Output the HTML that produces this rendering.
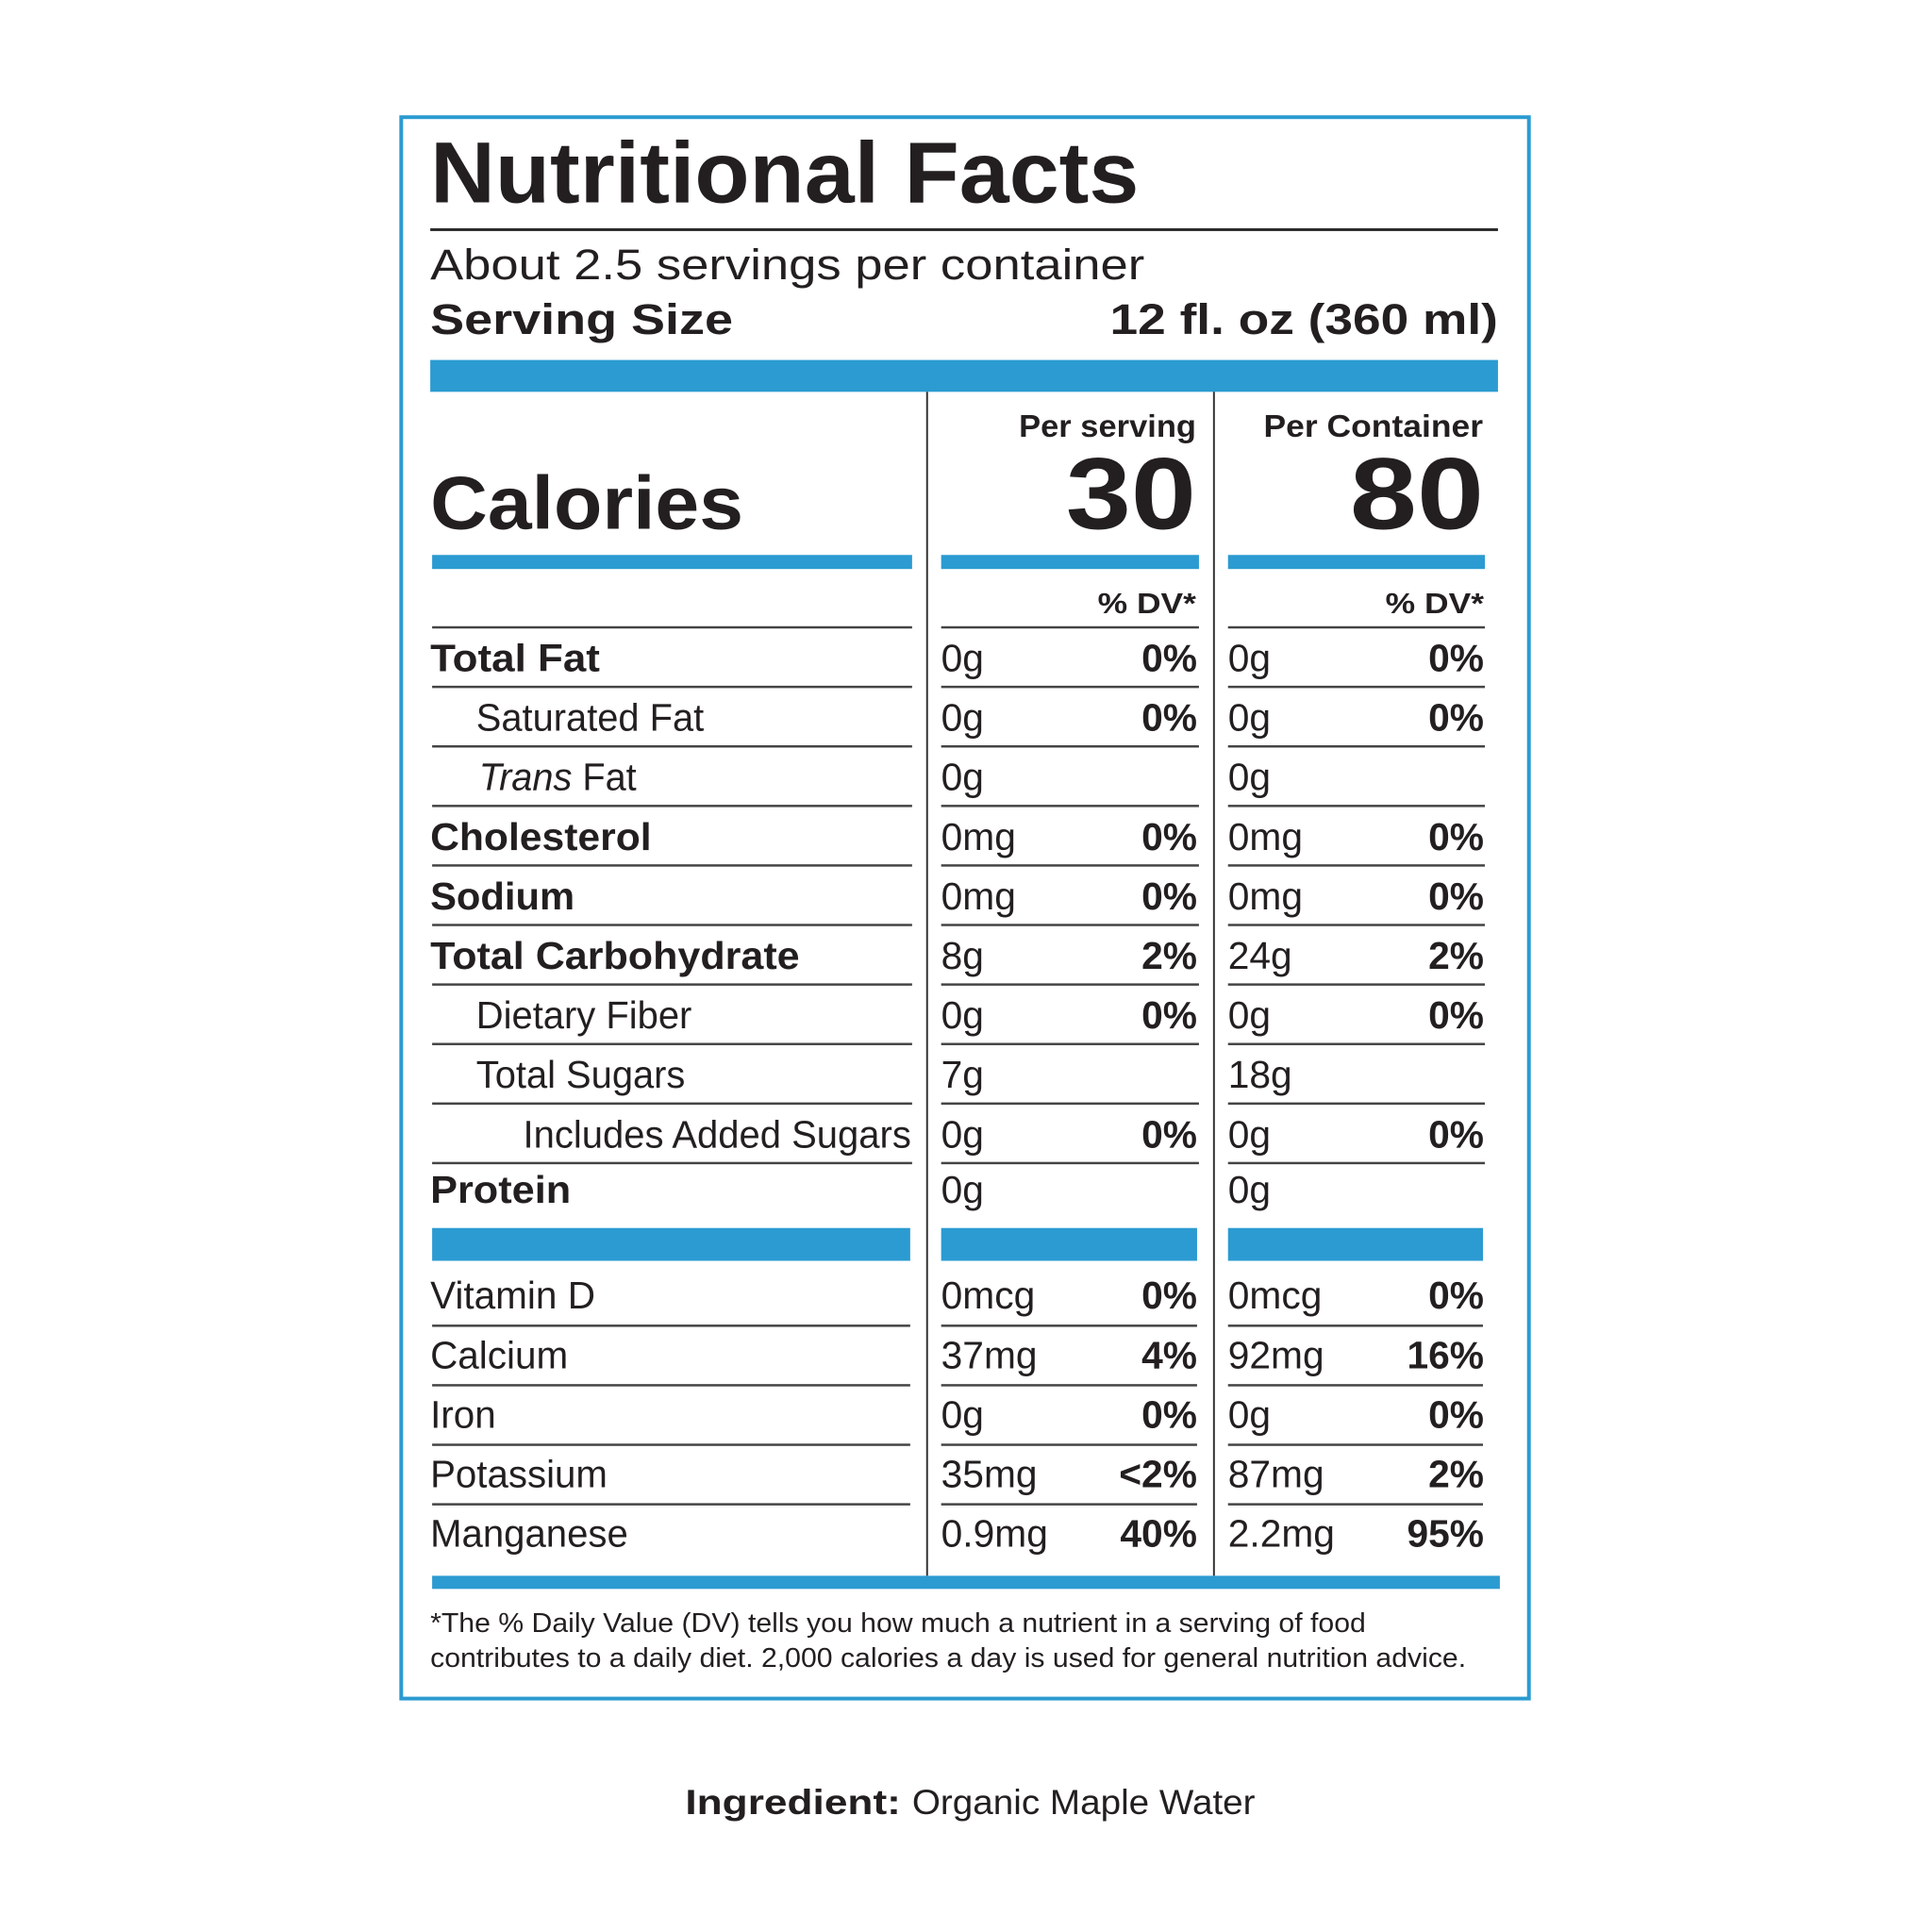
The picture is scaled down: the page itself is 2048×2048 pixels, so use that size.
<!DOCTYPE html>
<html><head><meta charset="utf-8"><style>
html,body{margin:0;padding:0;background:#fff}
svg{display:block}
text{font-family:"Liberation Sans",Arial,sans-serif;fill:#231f20}
.b{font-weight:bold}
.r{font-size:41px}
.p{font-size:41px;font-weight:bold;text-anchor:end}
</style></head><body>
<svg width="2048" height="2048" viewBox="0 0 2061 2061" xmlns="http://www.w3.org/2000/svg">
<rect x="0" y="0" width="2061" height="2061" fill="#fff"/>
<rect x="428" y="125" width="1203" height="1687" fill="none" stroke="#2b9bd1" stroke-width="4"/>
<text x="459" y="216" class="b" font-size="92" textLength="756" lengthAdjust="spacingAndGlyphs">Nutritional Facts</text>
<rect x="459" y="243.5" width="1139" height="3" fill="#2a2a2a"/>
<text x="459" y="298" font-size="46" textLength="762" lengthAdjust="spacingAndGlyphs">About 2.5 servings per container</text>
<text x="459" y="356" class="b" font-size="46" textLength="323" lengthAdjust="spacingAndGlyphs">Serving Size</text>
<text x="1184" y="356" class="b" font-size="46" textLength="414" lengthAdjust="spacingAndGlyphs">12 fl. oz (360 ml)</text>
<rect x="459" y="384" width="1139" height="34" fill="#2b9bd1"/>
<rect x="988" y="418" width="2" height="1263" fill="#333"/>
<rect x="1294" y="418" width="2" height="1263" fill="#333"/>
<text x="1087" y="466" class="b" font-size="34" textLength="189" lengthAdjust="spacingAndGlyphs">Per serving</text>
<text x="1348" y="466" class="b" font-size="34" textLength="234" lengthAdjust="spacingAndGlyphs">Per Container</text>
<text x="1137" y="564" class="b" font-size="108" textLength="139" lengthAdjust="spacingAndGlyphs">30</text>
<text x="1440" y="564" class="b" font-size="108" textLength="143" lengthAdjust="spacingAndGlyphs">80</text>
<text x="459" y="564" class="b" font-size="80" textLength="334" lengthAdjust="spacingAndGlyphs">Calories</text>
<rect x="461" y="592" width="512" height="15" fill="#2b9bd1"/>
<rect x="1004" y="592" width="275" height="15" fill="#2b9bd1"/>
<rect x="1310" y="592" width="274" height="15" fill="#2b9bd1"/>
<text x="1171" y="654" class="b" font-size="31" textLength="105" lengthAdjust="spacingAndGlyphs">% DV*</text>
<text x="1478" y="654" class="b" font-size="31" textLength="105" lengthAdjust="spacingAndGlyphs">% DV*</text>
<g fill="#444">
<rect x="461" y="668" width="512" height="2.5"/><rect x="1004" y="668" width="275" height="2.5"/><rect x="1310" y="668" width="274" height="2.5"/>
<rect x="461" y="731.5" width="512" height="2.5"/><rect x="1004" y="731.5" width="275" height="2.5"/><rect x="1310" y="731.5" width="274" height="2.5"/>
<rect x="461" y="795" width="512" height="2.5"/><rect x="1004" y="795" width="275" height="2.5"/><rect x="1310" y="795" width="274" height="2.5"/>
<rect x="461" y="858.5" width="512" height="2.5"/><rect x="1004" y="858.5" width="275" height="2.5"/><rect x="1310" y="858.5" width="274" height="2.5"/>
<rect x="461" y="922" width="512" height="2.5"/><rect x="1004" y="922" width="275" height="2.5"/><rect x="1310" y="922" width="274" height="2.5"/>
<rect x="461" y="985.5" width="512" height="2.5"/><rect x="1004" y="985.5" width="275" height="2.5"/><rect x="1310" y="985.5" width="274" height="2.5"/>
<rect x="461" y="1049" width="512" height="2.5"/><rect x="1004" y="1049" width="275" height="2.5"/><rect x="1310" y="1049" width="274" height="2.5"/>
<rect x="461" y="1112.5" width="512" height="2.5"/><rect x="1004" y="1112.5" width="275" height="2.5"/><rect x="1310" y="1112.5" width="274" height="2.5"/>
<rect x="461" y="1176" width="512" height="2.5"/><rect x="1004" y="1176" width="275" height="2.5"/><rect x="1310" y="1176" width="274" height="2.5"/>
<rect x="461" y="1239.5" width="512" height="2.5"/><rect x="1004" y="1239.5" width="275" height="2.5"/><rect x="1310" y="1239.5" width="274" height="2.5"/>
<rect x="461" y="1413" width="510" height="2.5"/><rect x="1004" y="1413" width="273" height="2.5"/><rect x="1310" y="1413" width="272" height="2.5"/>
<rect x="461" y="1476.5" width="510" height="2.5"/><rect x="1004" y="1476.5" width="273" height="2.5"/><rect x="1310" y="1476.5" width="272" height="2.5"/>
<rect x="461" y="1540" width="510" height="2.5"/><rect x="1004" y="1540" width="273" height="2.5"/><rect x="1310" y="1540" width="272" height="2.5"/>
<rect x="461" y="1603.5" width="510" height="2.5"/><rect x="1004" y="1603.5" width="273" height="2.5"/><rect x="1310" y="1603.5" width="272" height="2.5"/>
</g>
<text x="459" y="716" class="r b" textLength="181" lengthAdjust="spacingAndGlyphs">Total Fat</text>
<text x="1004" y="716" class="r">0g</text><text x="1277" y="716" class="p">0%</text>
<text x="1310" y="716" class="r">0g</text><text x="1583" y="716" class="p">0%</text>

<text x="508" y="779.5" class="r" textLength="243" lengthAdjust="spacingAndGlyphs">Saturated Fat</text>
<text x="1004" y="779.5" class="r">0g</text><text x="1277" y="779.5" class="p">0%</text>
<text x="1310" y="779.5" class="r">0g</text><text x="1583" y="779.5" class="p">0%</text>

<text x="511" y="843" class="r" textLength="168" lengthAdjust="spacingAndGlyphs"><tspan font-style="italic">Trans</tspan> Fat</text>
<text x="1004" y="843" class="r">0g</text>
<text x="1310" y="843" class="r">0g</text>

<text x="459" y="906.5" class="r b" textLength="236" lengthAdjust="spacingAndGlyphs">Cholesterol</text>
<text x="1004" y="906.5" class="r">0mg</text><text x="1277" y="906.5" class="p">0%</text>
<text x="1310" y="906.5" class="r">0mg</text><text x="1583" y="906.5" class="p">0%</text>

<text x="459" y="970" class="r b" textLength="154" lengthAdjust="spacingAndGlyphs">Sodium</text>
<text x="1004" y="970" class="r">0mg</text><text x="1277" y="970" class="p">0%</text>
<text x="1310" y="970" class="r">0mg</text><text x="1583" y="970" class="p">0%</text>

<text x="459" y="1033.5" class="r b" textLength="394" lengthAdjust="spacingAndGlyphs">Total Carbohydrate</text>
<text x="1004" y="1033.5" class="r">8g</text><text x="1277" y="1033.5" class="p">2%</text>
<text x="1310" y="1033.5" class="r">24g</text><text x="1583" y="1033.5" class="p">2%</text>

<text x="508" y="1097" class="r" textLength="230" lengthAdjust="spacingAndGlyphs">Dietary Fiber</text>
<text x="1004" y="1097" class="r">0g</text><text x="1277" y="1097" class="p">0%</text>
<text x="1310" y="1097" class="r">0g</text><text x="1583" y="1097" class="p">0%</text>

<text x="508" y="1160.5" class="r" textLength="223" lengthAdjust="spacingAndGlyphs">Total Sugars</text>
<text x="1004" y="1160.5" class="r">7g</text>
<text x="1310" y="1160.5" class="r">18g</text>

<text x="558" y="1224" class="r" textLength="414" lengthAdjust="spacingAndGlyphs">Includes Added Sugars</text>
<text x="1004" y="1224" class="r">0g</text><text x="1277" y="1224" class="p">0%</text>
<text x="1310" y="1224" class="r">0g</text><text x="1583" y="1224" class="p">0%</text>

<text x="459" y="1283" class="r b" textLength="150" lengthAdjust="spacingAndGlyphs">Protein</text>
<text x="1004" y="1283" class="r">0g</text>
<text x="1310" y="1283" class="r">0g</text>

<rect x="461" y="1310" width="510" height="35" fill="#2b9bd1"/>
<rect x="1004" y="1310" width="273" height="35" fill="#2b9bd1"/>
<rect x="1310" y="1310" width="272" height="35" fill="#2b9bd1"/>

<text x="459" y="1396" class="r" textLength="176" lengthAdjust="spacingAndGlyphs">Vitamin D</text>
<text x="1004" y="1396" class="r">0mcg</text><text x="1277" y="1396" class="p">0%</text>
<text x="1310" y="1396" class="r">0mcg</text><text x="1583" y="1396" class="p">0%</text>

<text x="459" y="1459.5" class="r" textLength="147" lengthAdjust="spacingAndGlyphs">Calcium</text>
<text x="1004" y="1459.5" class="r">37mg</text><text x="1277" y="1459.5" class="p">4%</text>
<text x="1310" y="1459.5" class="r">92mg</text><text x="1583" y="1459.5" class="p">16%</text>

<text x="459" y="1523" class="r" textLength="70" lengthAdjust="spacingAndGlyphs">Iron</text>
<text x="1004" y="1523" class="r">0g</text><text x="1277" y="1523" class="p">0%</text>
<text x="1310" y="1523" class="r">0g</text><text x="1583" y="1523" class="p">0%</text>

<text x="459" y="1586.5" class="r" textLength="189" lengthAdjust="spacingAndGlyphs">Potassium</text>
<text x="1004" y="1586.5" class="r">35mg</text><text x="1277" y="1586.5" class="p">&lt;2%</text>
<text x="1310" y="1586.5" class="r">87mg</text><text x="1583" y="1586.5" class="p">2%</text>

<text x="459" y="1650" class="r" textLength="211" lengthAdjust="spacingAndGlyphs">Manganese</text>
<text x="1004" y="1650" class="r">0.9mg</text><text x="1277" y="1650" class="p">40%</text>
<text x="1310" y="1650" class="r">2.2mg</text><text x="1583" y="1650" class="p">95%</text>

<rect x="461" y="1681" width="1139" height="14" fill="#2b9bd1"/>
<text x="459" y="1741" font-size="29" textLength="998" lengthAdjust="spacingAndGlyphs">*The % Daily Value (DV) tells you how much a nutrient in a serving of food</text>
<text x="459" y="1778" font-size="29" textLength="1105" lengthAdjust="spacingAndGlyphs">contributes to a daily diet. 2,000 calories a day is used for general nutrition advice.</text>
<text x="731" y="1935" class="b" font-size="37" textLength="230" lengthAdjust="spacingAndGlyphs">Ingredient:</text>
<text x="973" y="1935" font-size="37" textLength="366" lengthAdjust="spacingAndGlyphs">Organic Maple Water</text>
</svg>
</body></html>
